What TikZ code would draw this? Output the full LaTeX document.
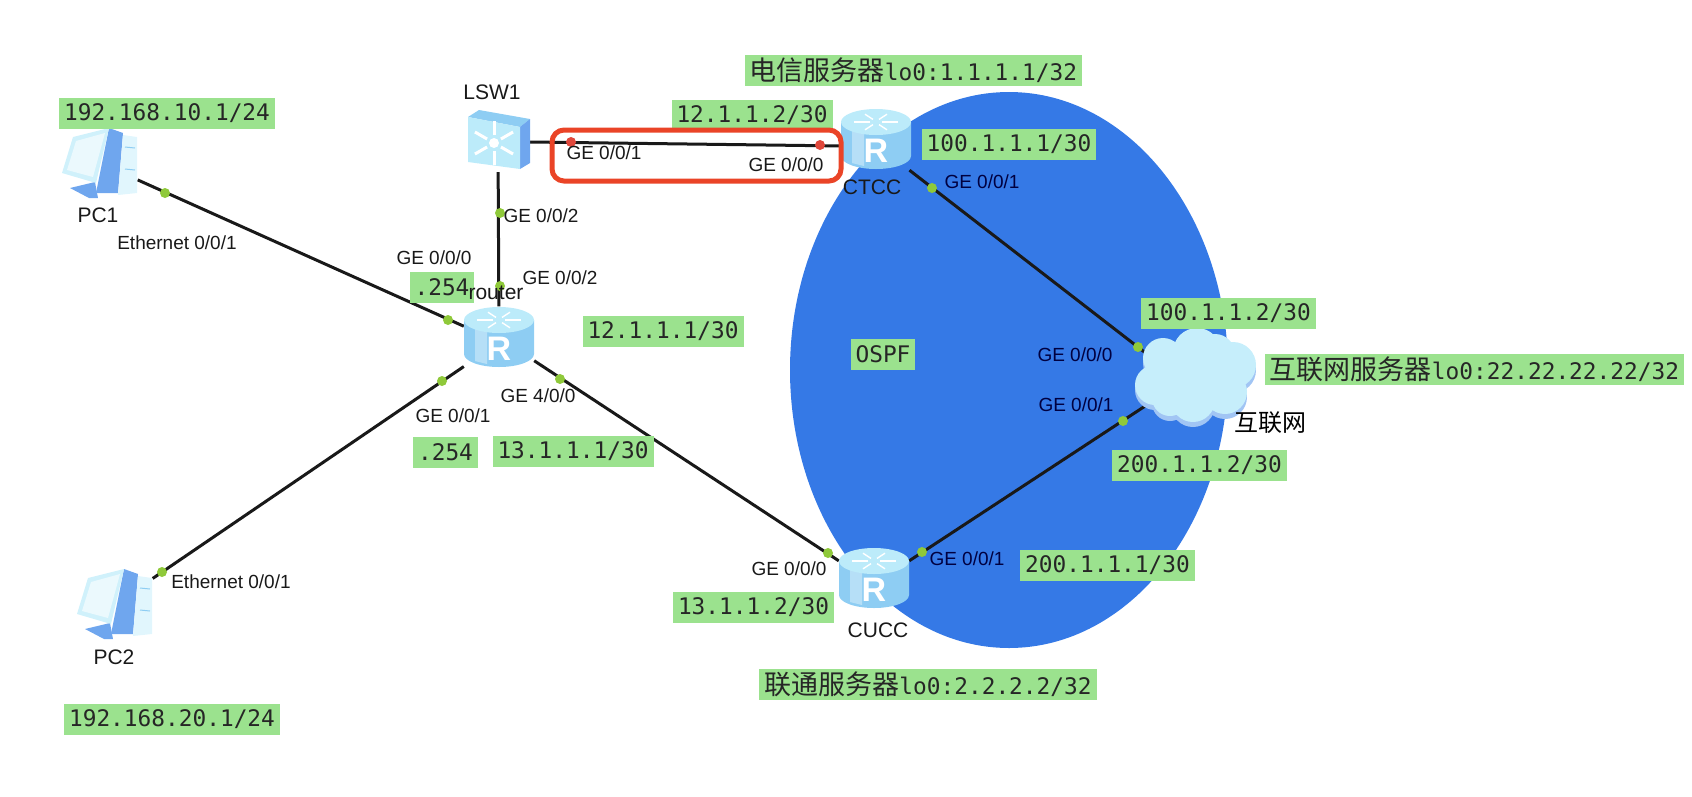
\documentclass[tikz,border=0pt]{standalone}
\usepackage{fontspec}
\setmainfont{Liberation Sans}
\newfontfamily\ipfont{DejaVu Sans Mono}
\newfontfamily\cjkfont{Noto Sans CJK SC}

\definecolor{ospfblue}{HTML}{3579E6}
\definecolor{labelgreen}{HTML}{9BE28E}
\definecolor{portgreen}{HTML}{8FC93A}
\definecolor{portred}{HTML}{E0483C}
\definecolor{boxred}{HTML}{EA4427}
\definecolor{icontop}{HTML}{BCEBFA}
\definecolor{iconside}{HTML}{8ECDF3}
\definecolor{iconblue}{HTML}{6FA6EE}

\newcommand{\cn}[2][27]{{\fontsize{#1}{#1}\selectfont\cjkfont #2}}
\newcommand{\puffs}{(2,-24) circle (24) (-32,-18) circle (20) (-40,9) circle (20)
  (-25,22) circle (18) (-2,24) circle (22) (30,16) circle (22) (38,-11) circle (23)
  (20,-22) circle (20) (0,0) ellipse[x radius=45,y radius=30]}

\tikzset{
  iplabel/.style={fill=labelgreen,inner xsep=5pt,inner ysep=0pt,minimum height=31pt,
    text=black!85,font=\ipfont\fontsize{22.8}{24}\selectfont},
  portlabel/.style={inner sep=0pt,text=black!90,font=\fontsize{19}{20}\selectfont},
  bluelabel/.style={portlabel,text=blue!25!black},
  devlabel/.style={inner sep=0pt,text=black!90,font=\fontsize{21}{22}\selectfont},
  gdot/.style={circle,fill=portgreen,inner sep=0pt,minimum size=10pt},
  rdot/.style={circle,fill=portred,inner sep=0pt,minimum size=10pt},
  link/.style={draw=black!90,line width=3pt},
  holder/.style={inner sep=0pt,minimum width=#1},
  pics/routericon/.style={code={
    \fill[iconside] (-35,-17) -- (-35,17) arc[start angle=180,end angle=0,x radius=35,y radius=13] -- (35,-17) -- cycle;
    \fill[iconside!65!white] (-24,-8) -- (-24,24) -- (-12,27) -- (-12,-8) -- cycle;
    \fill[icontop] (0,-17) ellipse[x radius=35,y radius=13];
    \foreach \a in {0,60,...,300}
      \draw[white,line width=1.4pt] (\a:6 and 3) ++(0,-17) -- ++(\a:16 and 6);
    \node[text=white,inner sep=0pt,font=\bfseries\fontsize{34}{34}\selectfont] at (0,12) {R};
  }},
  pics/switchicon/.style={code={
    \fill[iconside] (-30,-24) -- (-19,-31) -- (32,-22) -- (22,-14) -- cycle;
    \fill[iconblue] (22,-14) -- (32,-22) -- (32,22) -- (22,28) -- cycle;
    \fill[icontop] (-30,-24) -- (22,-14) -- (22,28) -- (-30,21) -- cycle;
    \foreach \a in {30,90,...,330}
      \draw[white,line width=3pt] (-4,2) ++(\a:8) -- ++(\a:14);
    \fill[white] (-4,2) circle (5);
  }},
  pics/pcicon/.style={code={
    \fill[iconblue] (-30,25) -- (-5,19) -- (-2,35) -- (-11,35) -- cycle;
    \fill[iconblue] (9,-35) -- (23,-30) -- (18,30) -- (-4,30) -- cycle;
    \fill[icontop!45!white] (23,-28) -- (37,-26) -- (37,30) -- (18,32) -- cycle;
    \fill[icontop!70!white] (-38,10) -- (-27,-26) -- (9,-35) -- (-4,20) -- cycle;
    \fill[icontop!30!white] (-33,7) -- (-24,-22) -- (5,-30) -- (-7,14) -- cycle;
    \draw[iconside,line width=1pt] (25,-16) -- (35,-15) (25,6) -- (35,7);
  }},
  pics/cloudicon/.style={code={
    \fill[iconblue!65!white,shift={(0,5)}] \puffs;
    \fill[icontop!85!white] \puffs;
  }}
}

\begin{document}
\begin{tikzpicture}[x=1pt,y=-1pt]
\useasboundingbox (0,0) rectangle (1692,796);

% OSPF area
\fill[ospfblue] (1009,370) ellipse[x radius=219,y radius=278];

% device places
\node[holder=75pt,minimum height=71pt] (pc1) at (100,163) {};
\node[holder=75pt,minimum height=76pt] (pc2) at (115,604) {};
\node[holder=63pt,minimum height=62pt] (lsw1) at (498,141) {};
\node[holder=70pt,minimum height=61pt] (router) at (499,337) {};
\node[holder=70pt,minimum height=62pt] (ctcc) at (876,139) {};
\node[holder=70pt,minimum height=61pt] (cucc) at (874,578) {};
\node[holder=121pt,minimum height=98pt] (internet) at (1195,376) {};
\coordinate (lswport) at (530,142);
\coordinate (ctccport) at (845,146);
\coordinate (netup) at (1165,368);
\coordinate (netdown) at (1165,393);

% links
\draw[link] (pc1) -- (router.163);
\draw[link] (pc2) -- (router.220);
\draw[link] (lsw1) -- (router);
\draw[link] (router.-34) -- (cucc.154);
\draw[link] (lswport) -- (ctccport);
\draw[link] (ctcc.-43) -- (netup);
\draw[link] (cucc.26) -- (netdown);

% icons
\pic at (pc1) {pcicon};
\pic at (pc2) {pcicon};
\pic at (lsw1) {switchicon};
\pic at (router) {routericon};
\pic at (ctcc) {routericon};
\pic at (cucc) {routericon};
\pic at (internet) {cloudicon};

% ports
\foreach \Name/\Point in {d1/{(165,193)}, d2/{(448,320)}, d3/{(162,572)}, d4/{(442,381)},
	d5/{(500,213)}, d6/{(500,286)}, d7/{(560,379)}, d8/{(828,553)},
	d9/{(932,188)}, d10/{(1138,347)}, d11/{(1123,421)}, d12/{(922,552)}}{
    \node[gdot] (\Name) at \Point {};
}
\node[rdot] (d13) at (571,142) {};
\node[rdot] (d14) at (820,145) {};

% address labels
\node[iplabel] (ippc1) at (167,113.5) {192.168.10.1/24};
\node[iplabel] (ippc2) at (172,719) {192.168.20.1/24};
\node[iplabel] (iplsw) at (752,115) {12.1.1.2/30};
\node[iplabel] (ipctcc) at (1009,144.5) {100.1.1.1/30};
\node[iplabel] (iptop) at (913.5,70) {\cn{电信服务器}lo0:1.1.1.1/32};
\node[iplabel] (ipgw1) at (442,287.5) {.254};
\node[iplabel] (ipgw2) at (445.5,452.5) {.254};
\node[iplabel] (iprouter1) at (663,331) {12.1.1.1/30};
\node[iplabel] (iprouter2) at (573,451.5) {13.1.1.1/30};
\node[iplabel] (ipcucc) at (753.5,607.5) {13.1.1.2/30};
\node[iplabel] (ipcucc2) at (1107.5,565) {200.1.1.1/30};
\node[iplabel] (ipnet1) at (1228.5,313.5) {100.1.1.2/30};
\node[iplabel] (ipnet2) at (1199.5,465.5) {200.1.1.2/30};
\node[iplabel] (ipnet3) at (1474.5,369) {\cn{互联网服务器}lo0:22.22.22.22/32};
\node[iplabel] (ipbottom) at (928,684.5) {\cn{联通服务器}lo0:2.2.2.2/32};
\node[iplabel] (ospf) at (883,354) {OSPF};

% the marked link
\node[draw=boxred,line width=5pt,rounded corners=12pt,minimum width=289pt,minimum height=51pt,inner sep=0pt] (markbox) at (696.5,155.5) {};

% device names
\node[devlabel] (namepc1) at (98,215) {PC1};
\node[devlabel] (namepc2) at (114,657) {PC2};
\node[devlabel] (namelsw) at (492,92) {LSW1};
\node[devlabel] (namerouter) at (496,293) {router};
\node[devlabel] (namectcc) at (872,187) {CTCC};
\node[devlabel] (namecucc) at (878,630) {CUCC};
\node[inner sep=0pt,text=black] (namenet) at (1270,423) {\cn[24]{互联网}};

% port names
\node[portlabel] (p1) at (177,243) {Ethernet 0/0/1};
\node[portlabel] (p2) at (231,582) {Ethernet 0/0/1};
\node[portlabel] (p3) at (434,258) {GE 0/0/0};
\node[portlabel] (p4) at (453,416) {GE 0/0/1};
\node[portlabel] (p5) at (541,216) {GE 0/0/2};
\node[portlabel] (p6) at (560,278) {GE 0/0/2};
\node[portlabel] (p7) at (538,396) {GE 4/0/0};
\node[portlabel] (p8) at (604,153) {GE 0/0/1};
\node[portlabel] (p9) at (786,165) {GE 0/0/0};
\node[portlabel] (p10) at (789,569) {GE 0/0/0};
\node[bluelabel] (p11) at (982,182) {GE 0/0/1};
\node[bluelabel] (p12) at (1075,355) {GE 0/0/0};
\node[bluelabel] (p13) at (1076,405) {GE 0/0/1};
\node[bluelabel] (p14) at (967,559) {GE 0/0/1};

\end{tikzpicture}
\end{document}
